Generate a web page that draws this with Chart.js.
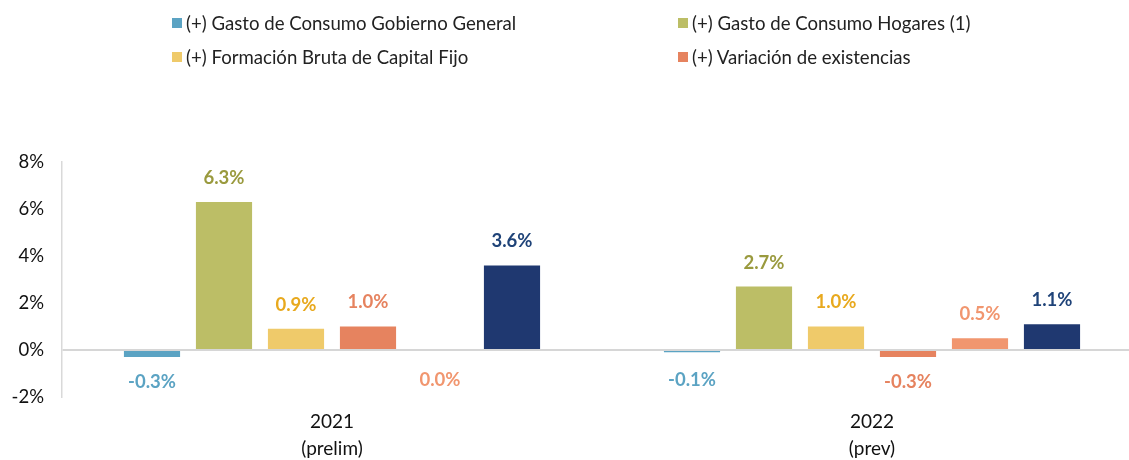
<!DOCTYPE html>
<html>
<head>
<meta charset="utf-8">
<script src="https://cdn.jsdelivr.net/npm/chart.js@4/dist/chart.umd.min.js"></script>
<style>
    html, body { margin: 0; padding: 0; background: #fff; overflow: hidden; }
    #wrap { position: relative; width: 1150px; height: 460px; }
    #leyenda { position: absolute; left: 172px; top: 11px; display: grid; grid-template-columns: 506px 400px; row-gap: 11px; font-family: Lato, sans-serif; font-size: 18.6px; color: #222; }
    .item { display: flex; align-items: center; height: 23px; white-space: nowrap; }
    .cuadro { width: 10px; height: 10px; margin-right: 4px; }
</style>
</head>
<body>
<div id="wrap">
    <div id="leyenda"></div>
    <canvas id="myChart" width="1150" height="460"></canvas>
</div>
<script>
// categorias y series (variacion %)
const categorias = [['2021', '(prelim)'], ['2022', '(prev)']];
const gobierno = [-0.3, -0.1];
const hogares = [6.3, 2.7];
const fbkf = [0.9, 1.0];
const existencias = [1.0, -0.3];
const exportNetas = [0.0, 0.5];
const pib = [3.6, 1.1];
const ticksY = [-2, 0, 2, 4, 6, 8];

const series = [
    { label: '(+) Gasto de Consumo Gobierno General', data: gobierno, color: '#5ba3c3', texto: '#5ba3c3' },
    { label: '(+) Gasto de Consumo Hogares (1)', data: hogares, color: '#bcbe66', texto: '#9a9a3e' },
    { label: '(+) Formación Bruta de Capital Fijo', data: fbkf, color: '#efca6a', texto: '#e8a91e' },
    { label: '(+) Variación de existencias', data: existencias, color: '#e6835f', texto: '#e6835f' },
    { label: '(+) Exportaciones netas', data: exportNetas, color: '#f1966f', texto: '#f1966f' },
    { label: 'PIB', data: pib, color: '#1f3870', texto: '#1f4378' }
];

// leyenda en dos columnas (solo las cuatro primeras series)
let frase = '';
for (let i = 0; i < 4; i++) {
    frase += `<div class="item"><span class="cuadro" style="background:${series[i].color}"></span>${series[i].label}</div>`;
}
document.getElementById('leyenda').innerHTML = frase;

// etiquetas de valor encima/debajo de cada barra
const etiquetas = {
    id: 'etiquetas',
    afterDatasetsDraw(chart) {
        const ctx = chart.ctx;
        ctx.save();
        ctx.font = 'bold 18.5px Lato, sans-serif';
        ctx.textAlign = 'center';
        ctx.textBaseline = 'middle';
        chart.data.datasets.forEach((ds, i) => {
            chart.getDatasetMeta(i).data.forEach((bar, j) => {
                const v = ds.data[j];
                const y = v > 0 ? bar.y - 24 : chart.scales.y.getPixelForValue(0) + 30 + (bar.base < bar.y ? bar.y - bar.base : 0) * 0.3;
                ctx.fillStyle = series[i].texto;
                ctx.fillText(v.toFixed(1) + '%', bar.x, y);
            });
        });
        ctx.restore();
    }
};

const data = {
    labels: categorias,
    datasets: series.map(s => ({
        label: s.label,
        data: s.data,
        backgroundColor: s.color,
        categoryPercentage: 0.8,
        barPercentage: 0.78
    }))
};

const config = {
    type: 'bar',
    data: data,
    options: {
        responsive: false,
        animation: false,
        layout: { padding: { top: 162, right: 8, left: 0, bottom: 0 } },
        plugins: {
            legend: { display: false },
            tooltip: { enabled: false }
        },
        scales: {
            x: {
                grid: { display: false, drawTicks: false },
                border: { display: false },
                ticks: { color: '#111', font: { family: 'Lato', size: 19, lineHeight: 1.4 }, padding: 12 },
                afterFit: (scale) => { scale.height = 63; }
            },
            y: {
                min: -2,
                max: 8,
                afterBuildTicks: (scale) => { scale.ticks = ticksY.map(v => ({ value: v })); },
                grid: {
                    drawTicks: false,
                    color: (c) => c.tick && c.tick.value === 0 ? '#d6d6d6' : 'rgba(0,0,0,0)',
                    lineWidth: 2
                },
                border: { display: true, color: '#d9d9d9', width: 1.5 },
                ticks: {
                    color: '#111',
                    font: { family: 'Lato', size: 18.5 },
                    padding: 18,
                    callback: (v) => v + '%'
                },
                afterFit: (scale) => { scale.width = 62; }
            }
        }
    },
    plugins: [etiquetas]
};

const myChart = new Chart(document.getElementById('myChart'), config);
</script>
</body>
</html>
